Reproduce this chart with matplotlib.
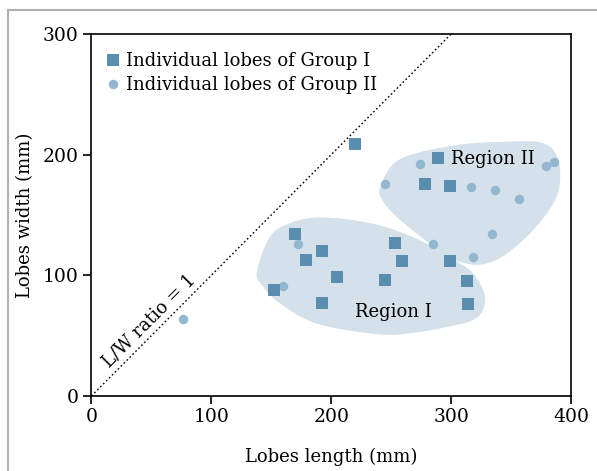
import numpy as np
import matplotlib
matplotlib.use("Agg")
import matplotlib.pyplot as plt
from matplotlib.lines import Line2D
from matplotlib.patches import Polygon

# ---- data ----
g1_len = [220, 289, 278, 299, 170, 192, 179, 253, 259, 299, 205, 245, 152, 313, 192, 314]
g1_wid = [209, 197, 176, 174, 134, 120, 113, 127, 112, 112, 99, 96, 88, 95, 77, 76]
g2_len = [76, 160, 172, 245, 274, 317, 337, 357, 379, 386, 334, 285, 318]
g2_wid = [64, 91, 126, 176, 192, 173, 171, 163, 191, 194, 134, 126, 115]

region1_x = [138, 149, 165, 190, 229, 260, 288, 304, 318, 328, 326, 318, 305, 273, 241, 188, 157, 143]
region1_y = [103, 132, 143, 148, 144, 135, 122, 112, 102, 84, 70, 63, 59, 53, 51, 60, 77, 91]
region2_x = [241, 257, 305, 355, 375, 386, 391, 387, 368, 345, 330, 317, 298, 276, 254, 243]
region2_y = [173, 196, 208, 211, 210, 203, 186, 163, 137, 117, 110, 109, 115, 131, 149, 162]

x_ticks = [0, 100, 200, 300, 400]
y_ticks = [0, 100, 200, 300]

SQ_COLOR = "#5a8eaf"
CI_COLOR = "#93b7d0"
FILL_COLOR = "#d4e0ea"

plt.rcParams['font.family'] = ['DejaVu Serif']


def smooth_closed(xs, ys, n=30):
    pts = np.column_stack([xs, ys]).astype(float)
    m = len(pts)
    out = []
    for i in range(m):
        p0, p1, p2, p3 = pts[(i - 1) % m], pts[i], pts[(i + 1) % m], pts[(i + 2) % m]
        for t in np.linspace(0, 1, n, endpoint=False):
            t2, t3 = t * t, t * t * t
            out.append(0.5 * ((2 * p1) + (-p0 + p2) * t + (2 * p0 - 5 * p1 + 4 * p2 - p3) * t2
                              + (-p0 + 3 * p1 - 3 * p2 + p3) * t3))
    return np.array(out)


fig = plt.figure(figsize=(5.97, 4.71), dpi=100)
ax = fig.add_axes([91.4 / 597, 1 - 396 / 471, (571 - 91.4) / 597, (396 - 34) / 471])

for xs, ys in [(region1_x, region1_y), (region2_x, region2_y)]:
    ax.add_patch(Polygon(smooth_closed(xs, ys), closed=True, facecolor=FILL_COLOR,
                         edgecolor='none', zorder=1))

ax.plot([0, 400], [0, 400], linestyle=(0, (1.2, 1.8)), color='black', lw=1.0, zorder=2)

ax.plot(g1_len, g1_wid, linestyle='none', marker='s', markersize=8.2, color=SQ_COLOR,
        markeredgewidth=0, zorder=4, label='Individual lobes of Group I')
ax.plot(g2_len, g2_wid, linestyle='none', marker='o', markersize=6.8, color=CI_COLOR,
        markeredgewidth=0, zorder=3, label='Individual lobes of Group II')

ax.text(252, 70, 'Region I', fontsize=13, ha='center', va='center', zorder=5)
ax.text(335, 196, 'Region II', fontsize=13, ha='center', va='center', zorder=5)
ax.text(48, 62, 'L/W ratio = 1', fontsize=13, ha='center', va='center', rotation=45,
        rotation_mode='anchor', zorder=5)

ax.set_xlim(0, 400)
ax.set_ylim(0, 300)
ax.set_xticks(x_ticks)
ax.set_yticks(y_ticks)
ax.tick_params(direction='out', length=6, width=1.2, labelsize=13.5, colors='black', pad=3)
for s in ax.spines.values():
    s.set_linewidth(1.2)
ax.set_xlabel('Lobes length (mm)', fontsize=13, labelpad=15)
ax.set_ylabel('Lobes width (mm)', fontsize=13, labelpad=6)

leg = ax.legend(loc='upper left', bbox_to_anchor=(0.0, 0.995), frameon=False, fontsize=13,
                handlelength=0.6, handletextpad=0.4, labelspacing=0.32, borderaxespad=0.5)

# figure frame (light gray)
fig.add_artist(Line2D([8 / 597, 1], [1 - 10 / 471, 1 - 10 / 471], color='#b0b0b0', lw=1.5,
                      transform=fig.transFigure))
fig.add_artist(Line2D([8 / 597, 8 / 597], [0, 1 - 10 / 471], color='#b0b0b0', lw=1.5,
                      transform=fig.transFigure))

fig.savefig('out.png', dpi=100)
